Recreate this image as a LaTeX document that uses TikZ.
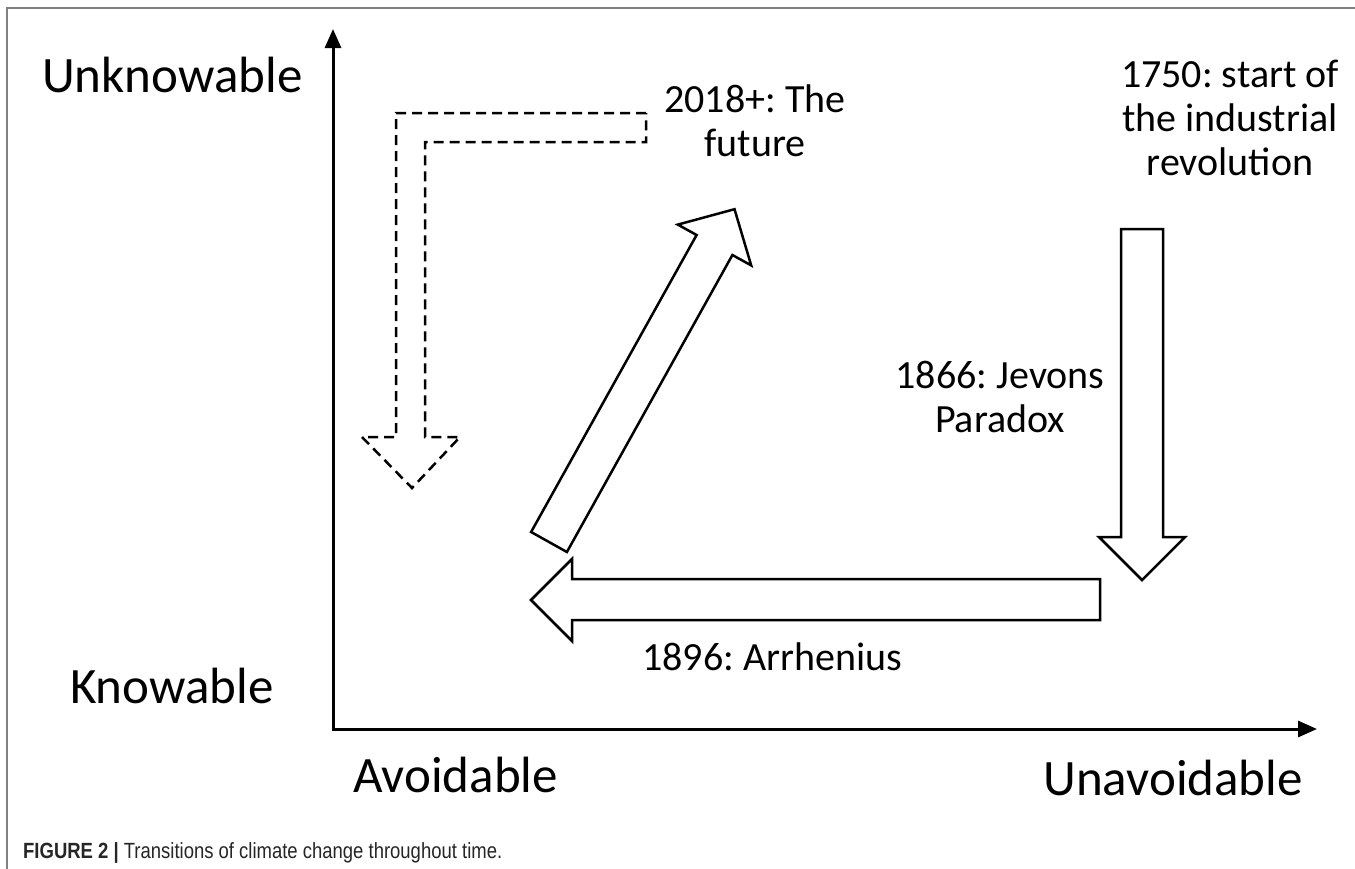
\documentclass[tikz,border=0pt]{standalone}
\usepackage{fontspec}
\setmainfont{Carlito}
\newfontfamily\capfont[FakeStretch=0.84]{Liberation Sans}
\usetikzlibrary{arrows.meta}
\frenchspacing
\newcommand{\firstline}{\rule{0pt}{30pt}}
\begin{document}
\begin{tikzpicture}[x=1pt,y=-1pt,
  blockarrow/.style={draw=black,line width=2.5pt,fill=white,line join=miter},
  dasharrow/.style={draw=black,line width=2.5pt,dash pattern=on 10pt off 6pt},
  axisline/.style={line width=3pt,line join=miter,{Triangle[length=19pt,width=16pt]}-{Triangle[length=19pt,width=16pt]}},
  axislabel/.style={font=\fontsize{51}{60}\selectfont,inner sep=0pt},
  eventlabel/.style={font=\fontsize{40}{44}\selectfont,inner sep=0pt,align=center},
  frameline/.style={draw=black!50,line width=1.5pt}]
\useasboundingbox (0,0) rectangle (1355,868);
\fill[white] (0,0) rectangle (1355,868);
\draw[frameline] (7,880) -- (7,8) -- (1360,8);
% axes
\coordinate (O) at (333,729);
\coordinate (Ytip) at (333,29);
\coordinate (Xtip) at (1317,729);
\draw[axisline] (Ytip) -- (O) -- (Xtip);
% dashed arrow
\draw[dasharrow] (646,113) -- (396,113) -- (396,437) -- (362,437) -- (412,488) -- (460,437) -- (425,437) -- (425,142) -- (646,142) -- cycle;
% diagonal arrow
\filldraw[blockarrow] (531.1,532) -- (696.6,235) -- (677.8,224.6) -- (734.5,209.2) -- (751.2,265.4) -- (732.4,255) -- (566.9,552) -- cycle;
% down arrow
\filldraw[blockarrow] (1121,229) -- (1163,229) -- (1163,537) -- (1185,537) -- (1142,580) -- (1099,537) -- (1121,537) -- cycle;
% left arrow
\filldraw[blockarrow] (1100,579) -- (1100,620) -- (572,620) -- (572,641) -- (531,600) -- (572,559) -- (572,579) -- cycle;
% labels
\node[axislabel,anchor=base west] (unk) at (42,92) {Unknowable};
\node[axislabel,anchor=base west] (kn) at (70,703) {Knowable};
\node[axislabel,anchor=base west] (av) at (353,792) {Avoidable};
\node[axislabel,anchor=base east] (unav) at (1303,795) {Unavoidable};
\node[eventlabel,anchor=north] (fut) at (755,82) {\firstline 2018+: The\\future};
\node[eventlabel,anchor=north] (ind) at (1230,57) {\firstline 1750: start of\\the industrial\\revolution};
\node[eventlabel,anchor=north] (jev) at (1000,358) {\firstline 1866: Jevons\\Paradox};
\node[eventlabel,anchor=base west] (arr) at (642,670) {1896: Arrhenius};
\node[anchor=base west,inner sep=0pt,text=black!85,font=\capfont\fontsize{22}{26}\selectfont] (cap) at (23,858) {\textbf{FIGURE 2 |} Transitions of climate change throughout time.};
\end{tikzpicture}
\end{document}
